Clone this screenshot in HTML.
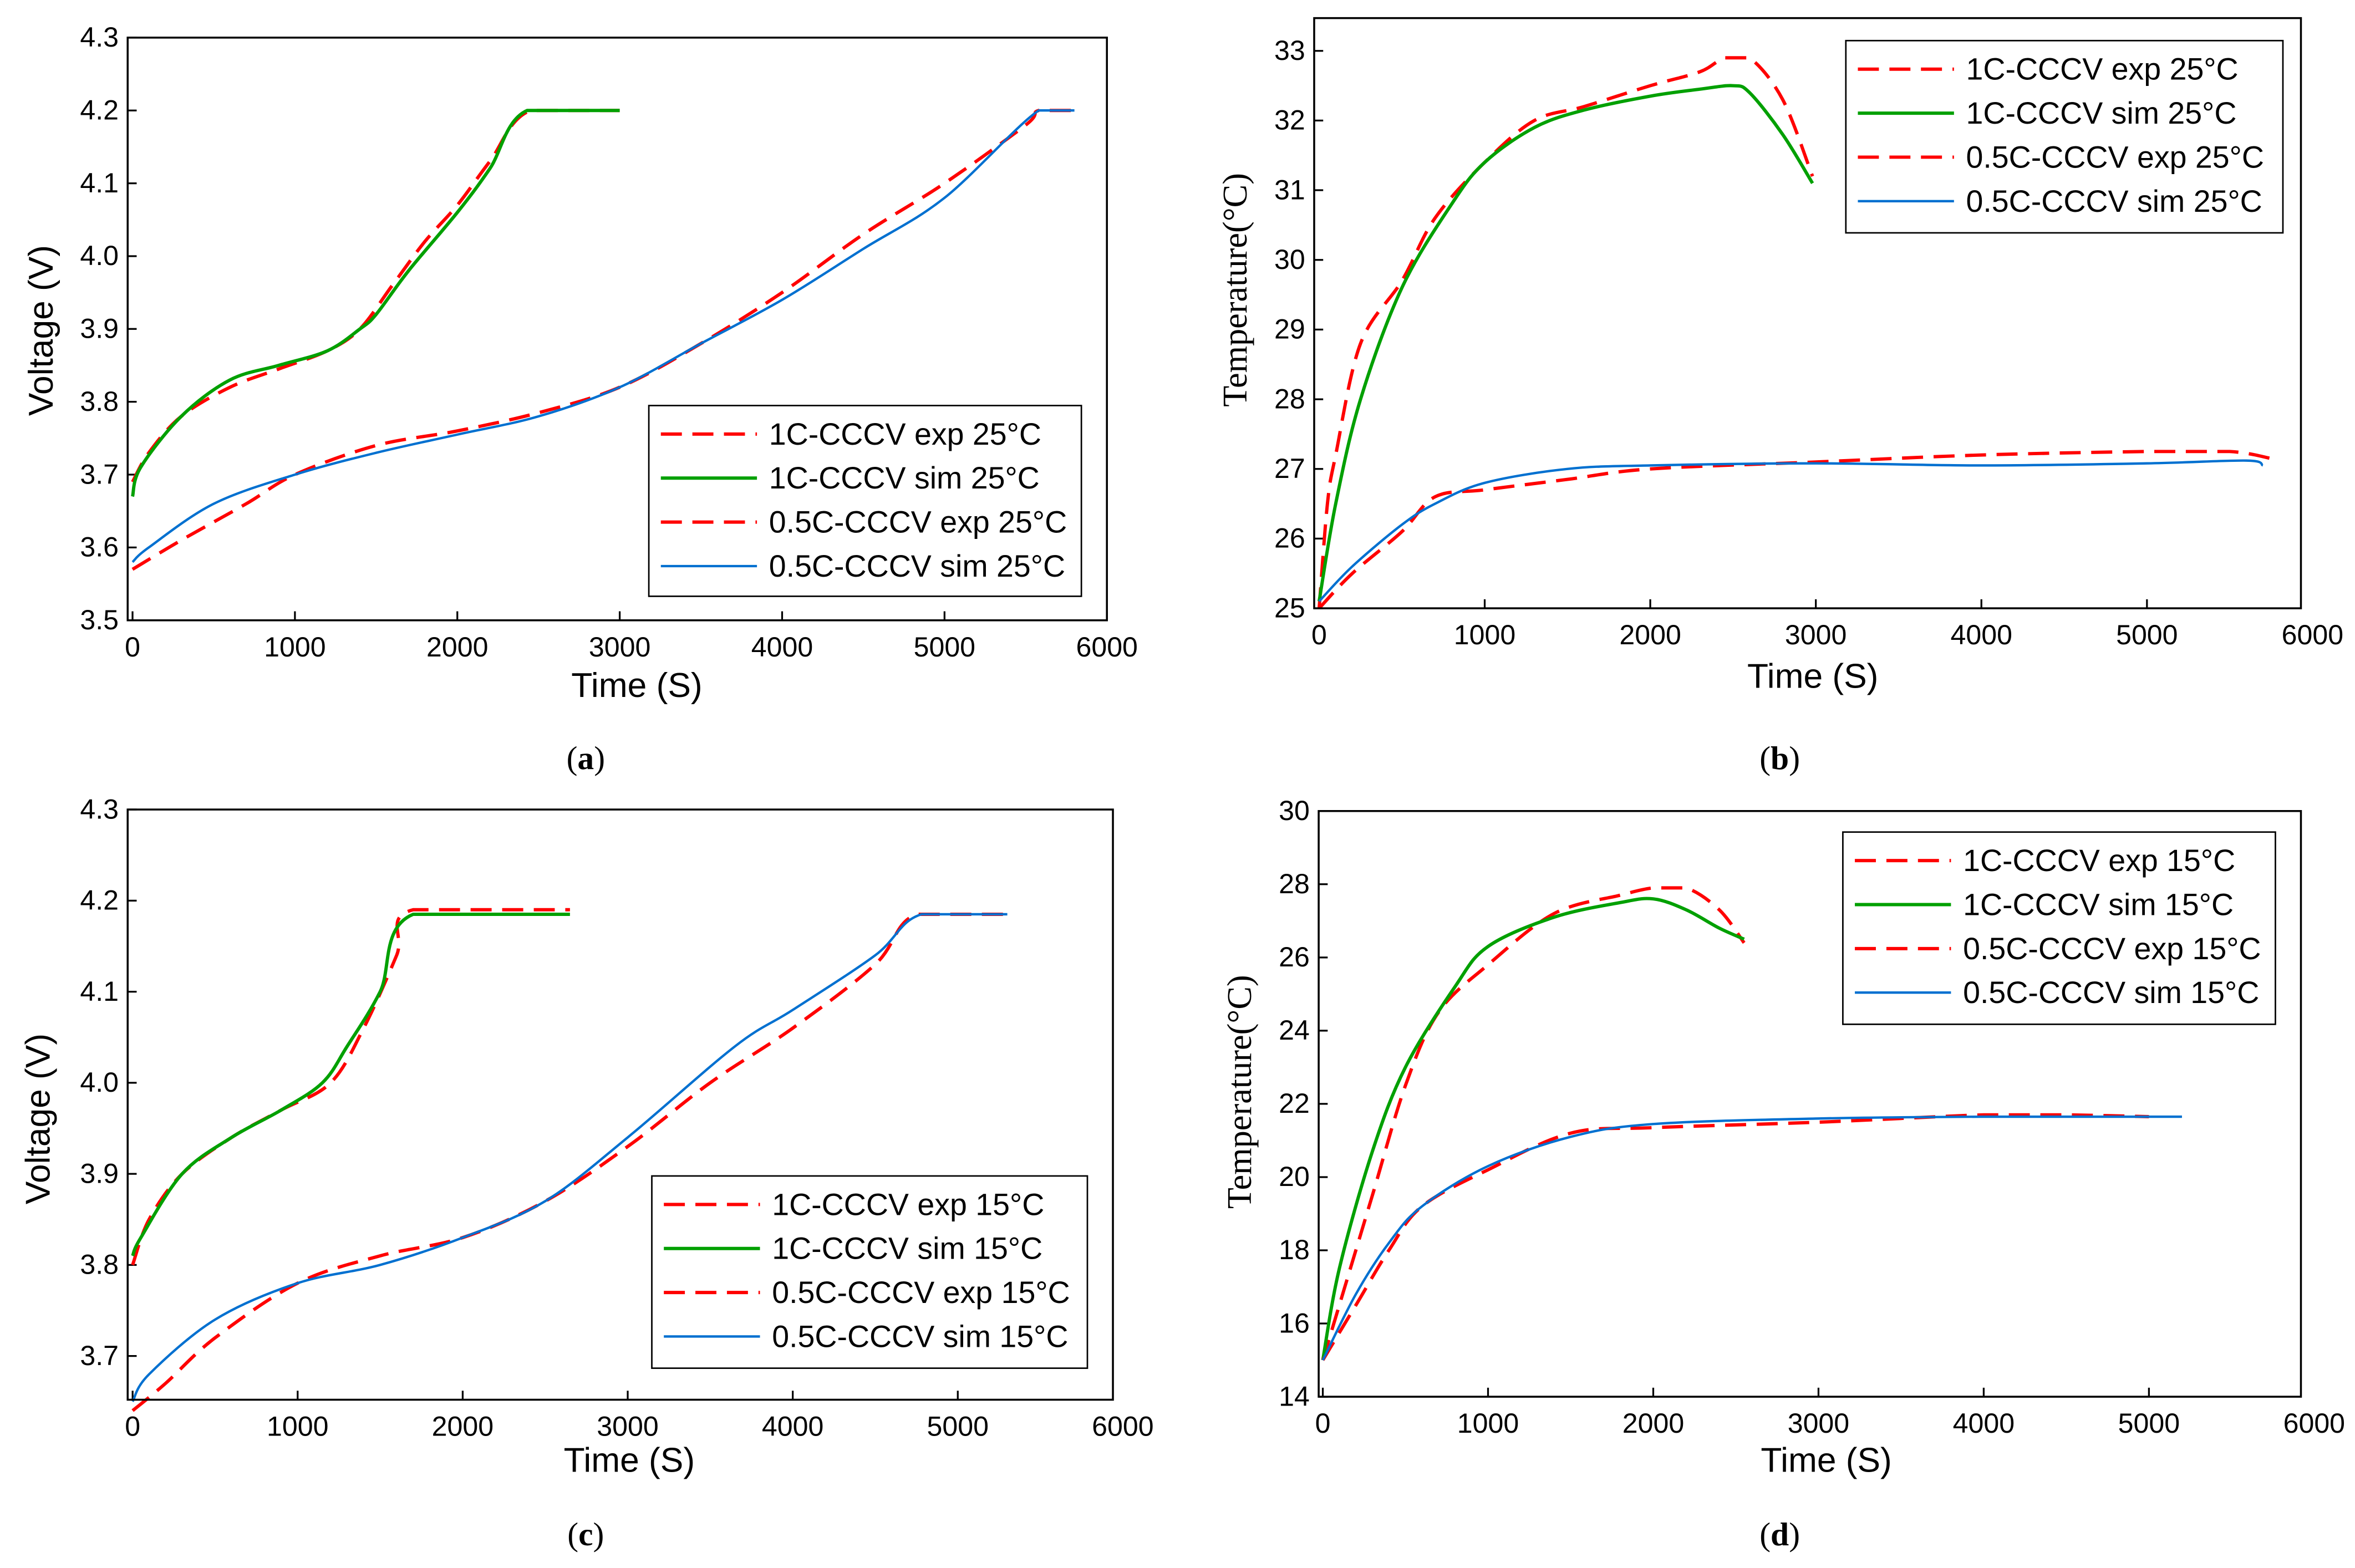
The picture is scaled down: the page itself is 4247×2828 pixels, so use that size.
<!DOCTYPE html>
<html><head><meta charset="utf-8">
<style>
html,body{margin:0;padding:0;background:#fff;}
svg{display:block;}
text{font-family:"Liberation Sans",sans-serif;fill:#000;}
</style></head>
<body>
<svg id="fig" width="4247" height="2828" viewBox="0 0 1568 1044" xmlns="http://www.w3.org/2000/svg"></svg>
<script>
// ---- data (time in s, value in V or °C) ----
const a_1c_exp_t=[0,100,300,600,900,1200,1400,1600,1800,2000,2200,2450,3000];
const a_1c_exp_v=[3.69,3.73,3.78,3.82,3.845,3.87,3.9,3.96,4.02,4.07,4.13,4.2,4.2];
const a_1c_sim_t=[0,50,300,600,900,1200,1400,1500,1700,2000,2200,2430,3000];
const a_1c_sim_v=[3.67,3.71,3.78,3.83,3.85,3.87,3.9,3.92,3.98,4.06,4.12,4.2,4.2];
const a_05_exp_t=[0,300,700,1000,1500,2000,2500,3000,3500,4000,4500,5000,5500,5580,5800];
const a_05_exp_v=[3.57,3.61,3.66,3.70,3.74,3.76,3.785,3.82,3.88,3.95,4.03,4.1,4.18,4.2,4.2];
const a_05_sim_t=[0,100,500,1000,1500,2000,2500,3000,3500,4000,4500,5000,5580,5800];
const a_05_sim_v=[3.58,3.60,3.66,3.70,3.73,3.755,3.78,3.82,3.88,3.94,4.01,4.08,4.2,4.2];

const b_1c_exp_t=[0,50,100,250,500,700,1000,1300,1600,2000,2300,2450,2600,2800,2980];
const b_1c_exp_v=[25,26.5,27.2,28.8,29.7,30.6,31.4,32.0,32.2,32.5,32.7,32.9,32.9,32.3,31.2];
const b_1c_sim_t=[0,100,250,500,800,1000,1300,1600,2000,2300,2500,2600,2800,2980];
const b_1c_sim_v=[25.1,26.5,28,29.6,30.8,31.4,31.9,32.15,32.35,32.45,32.5,32.4,31.8,31.1];
const b_05_exp_t=[0,200,500,700,1000,1500,2000,3000,4000,5000,5500,5750];
const b_05_exp_v=[25,25.5,26.1,26.6,26.7,26.85,27,27.1,27.2,27.25,27.25,27.15];
const b_05_sim_t=[0,200,500,700,1000,1500,2000,3000,4000,5000,5600,5700];
const b_05_sim_v=[25.1,25.6,26.2,26.5,26.8,27,27.05,27.08,27.05,27.08,27.12,27.05];

const c_1c_exp_t=[0,100,300,600,900,1200,1400,1600,1700,2650];
const c_1c_exp_v=[3.80,3.85,3.90,3.94,3.97,4.0,4.06,4.14,4.19,4.19];
const c_1c_sim_t=[0,50,300,600,900,1150,1300,1500,1700,2650];
const c_1c_sim_v=[3.81,3.83,3.90,3.94,3.97,4.0,4.04,4.1,4.185,4.185];
const c_05_exp_t=[0,200,500,1000,1500,2000,2500,3000,3500,4000,4500,4750,5300];
const c_05_exp_v=[3.64,3.67,3.72,3.78,3.81,3.83,3.87,3.93,4.0,4.06,4.13,4.185,4.185];
const c_05_sim_t=[0,100,500,1000,1500,2000,2500,3000,3650,4000,4500,4780,5300];
const c_05_sim_v=[3.65,3.68,3.74,3.78,3.80,3.83,3.87,3.94,4.04,4.08,4.14,4.185,4.185];

const d_1c_exp_t=[0,100,300,500,700,1000,1400,1800,2000,2200,2400,2550];
const d_1c_exp_v=[15,16.5,19.5,22.5,24.5,25.8,27.2,27.7,27.9,27.9,27.3,26.4];
const d_1c_sim_t=[0,100,300,500,800,1000,1400,1800,2000,2200,2400,2550];
const d_1c_sim_v=[15,17.5,20.7,23,25.2,26.3,27.1,27.5,27.6,27.3,26.8,26.5];
const d_05_exp_t=[0,200,400,600,1000,1500,2000,3000,4000,4500,5000];
const d_05_exp_v=[15,16.5,18,19.2,20.2,21.2,21.35,21.5,21.7,21.7,21.65];
const d_05_sim_t=[0,200,400,600,1000,1500,2000,3000,4000,5000,5200];
const d_05_sim_v=[15,16.8,18.2,19.2,20.3,21.1,21.45,21.6,21.65,21.65,21.65];

const xTicks=[0,1000,2000,3000,4000,5000,6000];
const voltTicksA=[3.5,3.6,3.7,3.8,3.9,4.0,4.1,4.2,4.3];
const voltTicksC=[3.7,3.8,3.9,4.0,4.1,4.2,4.3];
const tempTicksB=[25,26,27,28,29,30,31,32,33];
const tempTicksD=[14,16,18,20,22,24,26,28,30];

const NS="http://www.w3.org/2000/svg";
const svg=document.getElementById('fig');
function mk(tag,attrs,parent){const e=document.createElementNS(NS,tag);for(const k in attrs)e.setAttribute(k,attrs[k]);(parent||svg).appendChild(e);return e;}
function smooth(pts){
  let d='M'+pts[0][0].toFixed(2)+','+pts[0][1].toFixed(2);
  for(let i=0;i<pts.length-1;i++){
    const p0=pts[Math.max(0,i-1)],p1=pts[i],p2=pts[i+1],p3=pts[Math.min(pts.length-1,i+2)];
    const k=1/6;
    let c1x=p1[0]+(p2[0]-p0[0])*k,c1y=p1[1]+(p2[1]-p0[1])*k;
    let c2x=p2[0]-(p3[0]-p1[0])*k,c2y=p2[1]-(p3[1]-p1[1])*k;
    if(Math.abs(p2[1]-p1[1])<0.5){c1y=p1[1];c2y=p2[1];}
    d+='C'+c1x.toFixed(2)+','+c1y.toFixed(2)+' '+c2x.toFixed(2)+','+c2y.toFixed(2)+' '+p2[0].toFixed(2)+','+p2[1].toFixed(2);
  }
  return d;
}
function panel(p){
  const g=mk('g',{});
  
  
  const sx=v=>p.x0+(v-p.xmin)/(p.xmax-p.xmin)*(p.x1-p.x0);
  const sy=v=>p.y1-(v-p.ymin)/(p.ymax-p.ymin)*(p.y1-p.y0);
  p.xt.forEach(t=>{const x=sx(t);
    if(x<=p.x1+1){const l=mk('line',{x1:x,x2:x,y1:p.y1,y2:p.y1-6,stroke:'#000','stroke-width':1.2},g);
      }
    const tx=mk('text',{x:x,y:p.y1+24,'font-size':18.5,'text-anchor':'middle'},g);tx.textContent=t;
    
  });
  p.yt.forEach(t=>{const y=sy(t);
    const l=mk('line',{x1:p.x0,x2:p.x0+6,y1:y,y2:y,stroke:'#000','stroke-width':1.2},g);
    
    const tx=mk('text',{x:p.x0-6,y:y+6,'font-size':18.5,'text-anchor':'end'},g);tx.textContent=p.yfmt(t);
    
  });
  const series=p.series;
  series.forEach(s=>{
    const pts=s.t.map((t,i)=>[sx(t),sy(s.v[i])]);
    const path=mk('path',{d:smooth(pts),fill:'none',stroke:s.c,'stroke-width':s.w,'stroke-dasharray':s.dash||'none','stroke-linejoin':'round'},g);
    
    
  });
  const box=mk('rect',{x:p.x0,y:p.y0,width:p.x1-p.x0,height:p.y1-p.y0,fill:'none',stroke:'#000','stroke-width':1.3},g);
  
  const L=p.leg;
  const lg=mk('g',{},g);
  
  mk('rect',{x:L.x,y:L.y,width:L.w,height:L.h,fill:'#fff',stroke:'#000','stroke-width':1},lg);
  series.forEach((s,i)=>{const y=L.y+19+i*29.3;
    const e=mk('g',{},lg);
    
    mk('line',{x1:L.x+8,x2:L.x+72,y1:y,y2:y,stroke:s.c,'stroke-width':s.w,'stroke-dasharray':s.dash||'none'},e);
    const tx=mk('text',{x:L.x+80,y:y+7,'font-size':20.5},e);tx.textContent=s.label;
  });
  const xt=mk('text',{x:p.xtx,y:p.xty,'font-size':23,'text-anchor':'middle'},g);xt.textContent='Time (S)';
  
  const yt=mk('text',{x:0,y:0,'font-size':23,'text-anchor':'middle',transform:`translate(${p.ytx},${p.yty}) rotate(-90)`,style:p.serifY?'font-family:"Liberation Serif",serif':''},g);
  yt.textContent=p.ytitle;
  
  const pl=mk('text',{x:p.plx,y:p.ply,'font-size':22,'text-anchor':'middle',style:'font-family:"Liberation Serif",serif'},g);
  pl.innerHTML='(<tspan font-weight="bold">'+p.letter+'</tspan>)';
  
}
const R='#ff0000',G='#00a000',B='#0070d0',DA='14,7';
function ser(T,ta,va,tb,vb,tc,vc,td,vd){return [
 {t:ta,v:va,c:R,w:2.2,dash:DA,name:'series-1c-exp',label:'1C-CCCV exp '+T},
 {t:tb,v:vb,c:G,w:2.2,name:'series-1c-sim',label:'1C-CCCV sim '+T},
 {t:tc,v:vc,c:R,w:2.2,dash:DA,name:'series-05c-exp',label:'0.5C-CCCV exp '+T},
 {t:td,v:vd,c:B,w:1.6,name:'series-05c-sim',label:'0.5C-CCCV sim '+T}];}
const f1=v=>v.toFixed(1), f0=v=>String(v);
panel({id:'panel-a',letter:'a',x0:85,x1:737,y0:25,y1:413,xmin:-30,xmax:6000,ymin:3.5,ymax:4.3,xt:xTicks,yt:voltTicksA,yfmt:f1,
 series:ser('25°C',a_1c_exp_t,a_1c_exp_v,a_1c_sim_t,a_1c_sim_v,a_05_exp_t,a_05_exp_v,a_05_sim_t,a_05_sim_v),
 leg:{x:432,y:270,w:288,h:127},xtx:424,xty:464,ytx:35,yty:220,ytitle:'Voltage (V)',plx:390,ply:512});
panel({id:'panel-b',letter:'b',x0:875,x1:1532,y0:12,y1:405,xmin:-30,xmax:5930,ymin:25,ymax:33.47,xt:xTicks,yt:tempTicksB,yfmt:f0,
 series:ser('25°C',b_1c_exp_t,b_1c_exp_v,b_1c_sim_t,b_1c_sim_v,b_05_exp_t,b_05_exp_v,b_05_sim_t,b_05_sim_v),
 leg:{x:1229,y:27,w:291,h:128},xtx:1207,xty:458,ytx:830,yty:193,ytitle:'Temperature(°C)',serifY:true,plx:1185,ply:512});
panel({id:'panel-c',letter:'c',x0:85,x1:741,y0:539,y1:932,xmin:-30,xmax:5940,ymin:3.652,ymax:4.3,xt:xTicks,yt:voltTicksC,yfmt:f1,
 series:ser('15°C',c_1c_exp_t,c_1c_exp_v,c_1c_sim_t,c_1c_sim_v,c_05_exp_t,c_05_exp_v,c_05_sim_t,c_05_sim_v),
 leg:{x:434,y:783,w:290,h:128},xtx:419,xty:980,ytx:33,yty:745,ytitle:'Voltage (V)',plx:390,ply:1029});
panel({id:'panel-d',letter:'d',x0:878,x1:1532,y0:540,y1:930,xmin:-25,xmax:5920,ymin:14,ymax:30,xt:xTicks,yt:tempTicksD,yfmt:f0,
 series:ser('15°C',d_1c_exp_t,d_1c_exp_v,d_1c_sim_t,d_1c_sim_v,d_05_exp_t,d_05_exp_v,d_05_sim_t,d_05_sim_v),
 leg:{x:1227,y:554,w:288,h:128},xtx:1216,xty:980,ytx:833,yty:727,ytitle:'Temperature(°C)',serifY:true,plx:1185,ply:1029});
</script>
</body></html>
